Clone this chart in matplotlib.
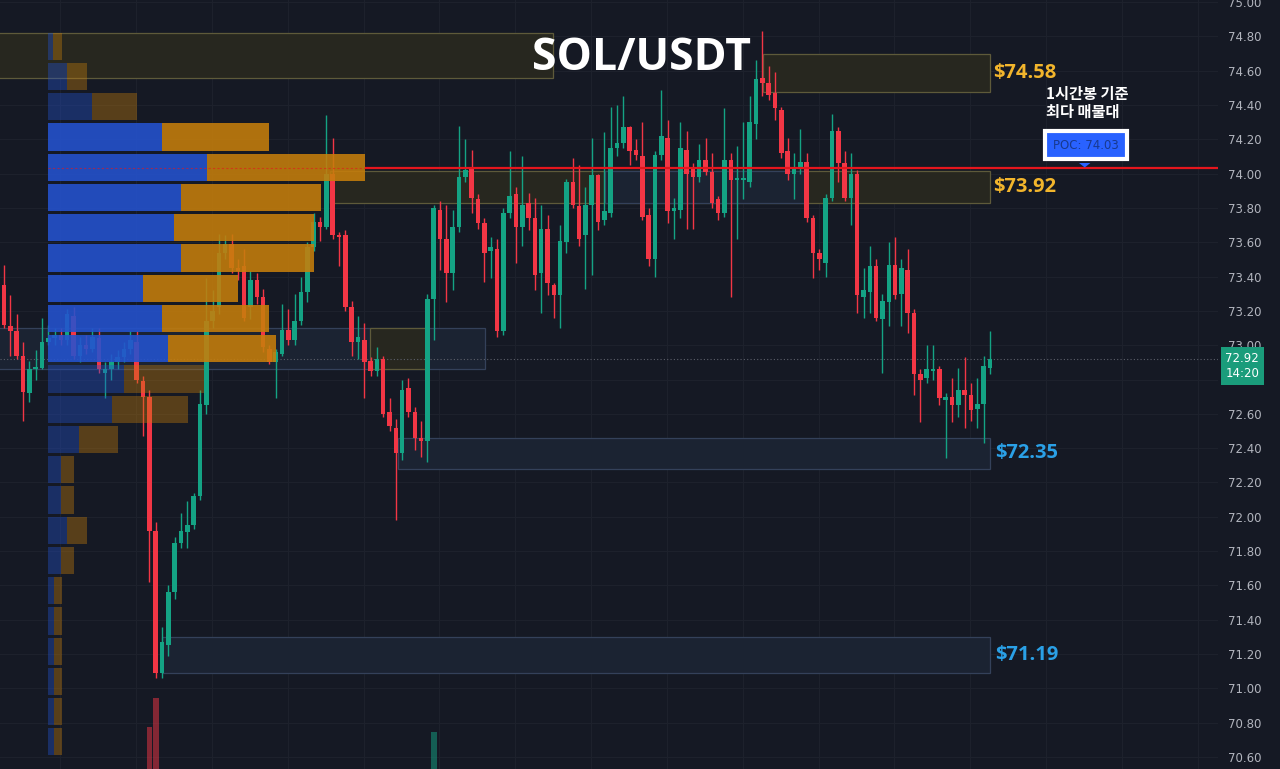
import numpy as np
import matplotlib.pyplot as plt
from matplotlib.patches import Rectangle, Polygon
from matplotlib.transforms import blended_transform_factory

# 1h candles, oldest -> newest
opens = [
    73.35, 73.11, 73.08, 72.94, 72.72, 72.86, 72.87, 73.02, 73.04, 73.06,
    73.03, 73.17, 72.94, 73.00, 72.98, 73.04, 72.84, 72.86, 72.90, 72.93,
    72.98, 73.02, 72.79, 72.70, 71.92, 71.09, 71.25, 71.56, 71.85, 71.91,
    71.95, 72.12, 72.65, 73.14, 73.22, 73.54, 73.59, 73.45, 73.46, 73.22,
    73.38, 73.28, 72.98, 72.90, 72.95, 73.09, 73.03, 73.14, 73.31, 73.57,
    73.72, 73.69, 74.00, 73.64, 73.64, 73.22, 73.02, 73.03, 72.91, 72.85,
    72.92, 72.61, 72.52, 72.37, 72.75, 72.61, 72.46, 72.44, 73.27, 73.79,
    73.62, 73.42, 73.69, 73.98, 74.03, 73.85, 73.71, 73.55, 73.56, 73.08,
    73.77, 73.88, 73.69, 73.83, 73.74, 73.42, 73.68, 73.35, 73.29, 73.60,
    73.95, 73.81, 73.64, 73.82, 73.99, 73.73, 73.77, 74.15, 74.18, 74.27,
    74.14, 74.10, 73.76, 73.50, 74.11, 74.21, 73.78, 73.79, 74.14, 74.03,
    73.98, 74.08, 74.01, 73.85, 73.77, 74.08, 73.96, 73.96, 73.95, 74.29,
    74.56, 74.53, 74.47, 74.37, 74.13, 74.00, 74.03, 74.07, 73.74, 73.54,
    73.48, 73.86, 74.25, 74.06, 73.86, 74.00, 73.28, 73.31, 73.46, 73.15,
    73.25, 73.47, 73.30, 73.44, 73.19, 72.83, 72.81, 72.85, 72.86, 72.68,
    72.70, 72.65, 72.74, 72.71, 72.63, 72.66, 72.87]
highs = [
    73.47, 73.29, 73.18, 73.02, 72.91, 72.97, 73.16, 73.12, 73.10, 73.10,
    73.21, 73.22, 73.05, 73.06, 73.10, 73.10, 72.90, 72.95, 72.97, 73.02,
    73.08, 73.08, 72.82, 72.74, 71.97, 71.36, 71.60, 71.88, 72.02, 72.09,
    72.14, 72.74, 73.39, 73.32, 73.65, 73.64, 73.65, 73.50, 73.56, 73.43,
    73.42, 73.33, 73.00, 72.98, 73.24, 73.21, 73.30, 73.40, 73.60, 73.77,
    73.75, 74.34, 74.21, 73.66, 73.67, 73.26, 73.17, 73.13, 72.93, 72.99,
    72.94, 72.69, 72.57, 72.80, 72.81, 72.64, 72.56, 73.30, 73.82, 73.84,
    73.82, 73.79, 74.28, 74.20, 74.14, 73.88, 73.74, 73.63, 73.62, 73.80,
    74.13, 73.92, 74.10, 73.89, 73.86, 73.82, 73.76, 73.36, 73.70, 73.97,
    74.09, 74.05, 73.92, 74.21, 74.00, 74.24, 74.39, 74.40, 74.45, 74.28,
    74.20, 74.30, 73.80, 74.13, 74.49, 74.31, 73.86, 74.30, 74.25, 74.06,
    74.17, 74.21, 74.12, 73.87, 74.38, 74.12, 74.16, 74.30, 74.45, 74.66,
    74.83, 74.63, 74.59, 74.39, 74.21, 74.12, 74.26, 74.12, 73.76, 73.56,
    73.88, 74.35, 74.27, 74.13, 74.12, 74.02, 73.45, 73.58, 73.50, 73.30,
    73.60, 73.63, 73.50, 73.56, 73.21, 72.86, 73.00, 73.00, 72.88, 72.72,
    72.81, 72.87, 72.93, 72.78, 72.81, 72.94, 73.08]
lows = [
    73.10, 72.94, 72.92, 72.56, 72.67, 72.80, 72.86, 73.00, 73.00, 73.00,
    73.00, 72.92, 72.90, 72.95, 72.96, 72.84, 72.69, 72.80, 72.86, 72.90,
    72.95, 72.78, 72.47, 71.62, 71.06, 71.06, 71.19, 71.52, 71.82, 71.82,
    71.93, 72.10, 72.60, 73.10, 73.18, 73.50, 73.42, 73.38, 73.14, 73.15,
    73.24, 72.96, 72.89, 72.69, 72.94, 73.00, 73.00, 73.12, 73.25, 73.55,
    73.61, 73.68, 73.62, 73.46, 73.20, 72.94, 72.92, 72.69, 72.82, 72.82,
    72.58, 72.50, 71.98, 72.33, 72.58, 72.39, 72.35, 72.32, 73.03, 73.44,
    73.25, 73.32, 73.66, 73.95, 73.77, 73.68, 73.37, 73.39, 73.05, 73.06,
    73.74, 73.48, 73.58, 73.67, 73.32, 73.19, 73.29, 73.16, 73.10, 73.54,
    73.80, 73.58, 73.33, 73.41, 73.67, 73.70, 73.75, 74.10, 74.15, 74.05,
    74.08, 73.73, 73.46, 73.40, 74.08, 73.71, 73.62, 73.74, 73.68, 73.68,
    73.95, 73.99, 73.80, 73.73, 73.75, 73.28, 73.62, 73.85, 73.92, 74.20,
    74.45, 74.43, 74.31, 74.09, 73.96, 73.85, 74.00, 73.72, 73.39, 73.44,
    73.40, 73.84, 73.95, 73.84, 73.70, 73.19, 73.16, 73.19, 73.14, 72.84,
    73.11, 73.27, 73.11, 73.07, 72.71, 72.55, 72.78, 72.80, 72.65, 72.34,
    72.55, 72.58, 72.52, 72.56, 72.52, 72.43, 72.83]
closes = [
    73.12, 73.08, 72.94, 72.73, 72.86, 72.87, 73.02, 73.04, 73.06, 73.03,
    73.18, 72.94, 73.00, 72.98, 73.05, 72.86, 72.86, 72.90, 72.93, 72.98,
    73.03, 72.80, 72.70, 71.92, 71.09, 71.27, 71.56, 71.85, 71.92, 71.95,
    72.12, 72.66, 73.14, 73.20, 73.54, 73.59, 73.45, 73.43, 73.16, 73.38,
    73.28, 72.99, 72.90, 72.96, 73.09, 73.03, 73.14, 73.31, 73.57, 73.72,
    73.69, 74.00, 73.64, 73.63, 73.22, 73.02, 73.05, 72.90, 72.85, 72.92,
    72.60, 72.53, 72.37, 72.74, 72.61, 72.46, 72.44, 73.27, 73.80, 73.62,
    73.42, 73.69, 73.98, 74.02, 73.86, 73.71, 73.54, 73.57, 73.08, 73.77,
    73.87, 73.69, 73.82, 73.74, 73.41, 73.68, 73.36, 73.29, 73.61, 73.95,
    73.82, 73.62, 73.82, 73.99, 73.72, 73.78, 74.15, 74.18, 74.27, 74.13,
    74.11, 73.75, 73.50, 74.11, 74.22, 73.78, 73.80, 74.15, 74.00, 73.98,
    74.08, 74.01, 73.83, 73.77, 74.08, 73.96, 73.97, 73.96, 74.30, 74.55,
    74.53, 74.46, 74.38, 74.12, 74.00, 74.03, 74.07, 73.74, 73.54, 73.50,
    73.86, 74.25, 74.06, 73.86, 74.00, 73.29, 73.32, 73.46, 73.16, 73.26,
    73.47, 73.29, 73.45, 73.19, 72.83, 72.80, 72.86, 72.86, 72.69, 72.70,
    72.65, 72.74, 72.71, 72.62, 72.66, 72.88, 72.92]

# the only volume bars tall enough to show at the bottom
vol_idx = [23, 24, 68]
vol_vals = [420, 710, 370]

# volume profile, rows from top (74.83) down to 70.60
vp_top, vp_bottom = 74.83, 70.60
vp_buy = [5, 19, 44, 114, 159, 133, 126, 133, 95, 114, 120, 76,
          64, 31, 13, 13, 19, 13, 6, 6, 6, 6, 6, 6]
vp_sell = [9, 20, 45, 107, 158, 140, 140, 133, 95, 107, 108, 80,
           76, 39, 13, 13, 20, 13, 8, 8, 8, 8, 8, 8]
value_area = range(3, 11)
poc = 74.03

# supply / demand zones (low, high) and their labels
top_zone = (74.56, 74.82)
mid_zone = (72.86, 73.10)
res_zones = [(74.475, 74.70), (73.83, 74.015)]
res_labels = ['$74.58', '$73.92']
sup_zones = [(72.28, 72.46), (71.09, 71.30)]
sup_labels = ['$72.35', '$71.19']

BG = '#151924'
UP = '#14a384'
DOWN = '#f23645'
GOLD = '#f2b52c'
SKY = '#2aa0e6'
GOLD_FC, GOLD_EC = '#27271f', '#5e5a3a'
BLUE_FC, BLUE_EC = '#1b2332', '#34415a'

px = 6.32  # pixels per candle
fig = plt.figure(figsize=(12.8, 7.69), dpi=100, facecolor=BG)
ax = fig.add_axes([0, 0, 1218 / 1280, 1])
ax.set_facecolor(BG)
xmax = (1218 - 4) / px
ax.set_xlim(-4 / px, xmax)
ax.set_ylim(70.53, 75.012)

n = len(closes)
x = np.arange(n)
o = np.array(opens)
c = np.array(closes)
h = np.maximum(np.array(highs), np.maximum(o, c))
l = np.minimum(np.array(lows), np.minimum(o, c))

# grid
for p in np.arange(70.6, 75.01, 0.2):
    ax.axhline(p, color='#1d212c', lw=0.8, zorder=0)
for g in np.arange(8.9, xmax, 12):
    ax.axvline(g, color='#1d212c', lw=0.8, zorder=0)


def box(x0, x1, lo, hi, fc, ec):
    ax.add_patch(Rectangle((x0, lo), x1 - x0, hi - lo, fc=fc, ec=ec,
                           lw=0.9, zorder=1))


# zones
box(-1, 86.9, top_zone[0], top_zone[1], GOLD_FC, GOLD_EC)
box(-1, 76.1, mid_zone[0], mid_zone[1], BLUE_FC, BLUE_EC)
box(57.9, 66.9, mid_zone[0], mid_zone[1], GOLD_FC, GOLD_EC)
box(120.1, 156.0, res_zones[0][0], res_zones[0][1], GOLD_FC, GOLD_EC)
box(51.6, 156.0, res_zones[1][0], res_zones[1][1], GOLD_FC, GOLD_EC)
box(95.1, 127.0, res_zones[1][0], res_zones[1][1], BLUE_FC, BLUE_EC)
box(62.3, 156.0, sup_zones[0][0], sup_zones[0][1], BLUE_FC, BLUE_EC)
box(25.0, 156.0, sup_zones[1][0], sup_zones[1][1], BLUE_FC, BLUE_EC)

for (lo, hi), lab in zip(res_zones, res_labels):
    ax.text(156.5, (lo + hi) / 2, lab, ha='left', va='center', color=GOLD,
            fontsize=14.5, fontweight='bold', family='Open Sans', zorder=6)
for (lo, hi), lab in zip(sup_zones, sup_labels):
    ax.text(156.8, (lo + hi) / 2, lab, ha='left', va='center', color=SKY,
            fontsize=14.5, fontweight='bold', family='Open Sans', zorder=6)

# last price dotted line
ax.axhline(closes[-1], color='#5d606b', lw=0.8, ls=(0, (1, 2)), zorder=2)

# candles
cols = np.where(c >= o, UP, DOWN)
ax.vlines(x, l, h, colors=cols, lw=1, zorder=3)
body = np.maximum(np.abs(c - o), 0.012)
ax.bar(x, body, bottom=np.minimum(o, c), width=0.72, color=cols,
       linewidth=0, zorder=3)

# volume profile
rows = len(vp_buy)
row_h = (vp_top - vp_bottom) / rows
centers = vp_top - row_h * (np.arange(rows) + 0.5)
vp_left = (48 - 4) / px
b = np.array(vp_buy) / px
s = np.array(vp_sell) / px
alphas = [0.88 if i in value_area else 0.38 for i in range(rows)]
for yc, bw, sw, a in zip(centers, b, s, alphas):
    ax.barh(yc, bw, left=vp_left, height=row_h * 0.9, color='#2453d0',
            alpha=a, linewidth=0, zorder=4)
    ax.barh(yc, sw, left=vp_left + bw, height=row_h * 0.9, color='#c67e0b',
            alpha=a, linewidth=0, zorder=4)

# POC line
poc_end = vp_left + (b + s).max()
ax.hlines(poc, vp_left, poc_end, color='#e5161d', lw=0.8,
          ls=(0, (2, 2)), alpha=0.6, zorder=5)
ax.hlines(poc, poc_end, xmax, color='#e5161d', lw=1.6, zorder=5)

# volume bars
vax = ax.twinx()
vax.set_ylim(0, 7690)
vcol = [DOWN if closes[i] < opens[i] else UP for i in vol_idx]
vax.bar(vol_idx, vol_vals, width=0.9, color=vcol, alpha=0.5, linewidth=0)
vax.axis('off')

# title and notes
ax.text(100.9, 74.67, 'SOL/USDT', ha='center', va='center', color='white',
        fontsize=32, fontweight='bold', family='Open Sans', zorder=10)
ax.text(164.9, 74.51, '1시간봉 기준\n최다 매물대', ha='left', va='top',
        color='white', fontsize=11, fontweight='bold', linespacing=1.1,
        family=['Noto Sans CJK KR', 'DejaVu Sans'], zorder=10)
ax.text(171.2, 74.165, 'POC: 74.03', ha='center', va='center',
        color='#18398f', fontsize=8.5, zorder=10,
        bbox=dict(boxstyle='square,pad=0.65', fc='#2962ff', ec='white', lw=3))
ax.add_patch(Polygon([(170.1, 74.062), (171.9, 74.062), (171.0, 74.036)],
                     closed=True, fc='#2962ff', ec='none', zorder=10))

# price axis (the 72.80 label sits under the live price tag)
ax.yaxis.tick_right()
ticks = np.round(np.arange(70.6, 75.01, 0.2), 2)
ax.set_yticks(ticks)
ax.set_yticklabels(['' if abs(t - 72.8) < 0.01 else f'{t:.2f}' for t in ticks])
ax.tick_params(axis='y', length=0, pad=7, labelcolor='#b2b5be', labelsize=8.5)
ax.set_xticks([])
for sp in ax.spines.values():
    sp.set_visible(False)

tr = blended_transform_factory(ax.transAxes, ax.transData)
ax.annotate(f'{closes[-1]:.2f}\n14:20', xy=(1.0, closes[-1]), xycoords=tr,
            xytext=(17.5, 5), textcoords='offset points', ha='center',
            va='top', color='white', fontsize=8.5, linespacing=1.25,
            annotation_clip=False, zorder=12,
            bbox=dict(boxstyle='square,pad=0.4', fc='#1a9c7b', ec='none'))

fig.savefig('out.png', dpi=100, facecolor=BG)
